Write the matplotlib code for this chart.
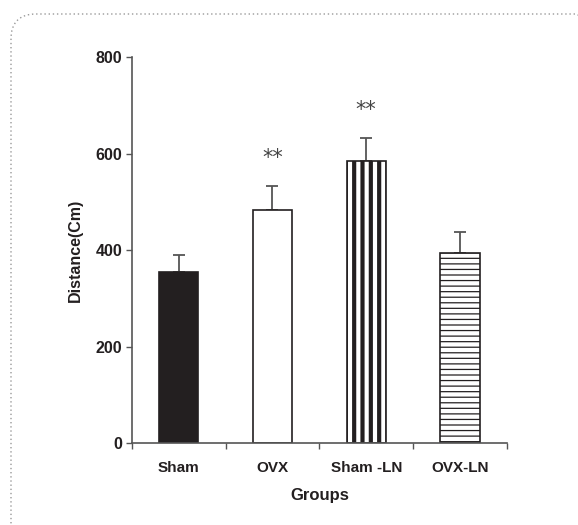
import numpy as np
import matplotlib
matplotlib.use("Agg")
import matplotlib.pyplot as plt
from matplotlib.patches import FancyBboxPatch

plt.rcParams['font.family'] = ['Liberation Sans', 'DejaVu Sans']

groups = ["Sham", "OVX", "Sham-LN", "OVX-LN"]
means = [354, 483, 584, 395]
errors = [36, 50, 48, 42]
stars = ["", "**", "**", ""]
tick_labels = ["Sham", "OVX", "Sham -LN", "OVX-LN"]

fig = plt.figure(figsize=(5.78, 5.25), dpi=100)
ax = fig.add_axes([0.228, 0.156, 0.649, 0.735])

x = np.arange(len(groups))
width = 0.42
colors = ["#231f20", "white", "white", "white"]
hatches = [None, None, "||", "---"]
hatch_lw = [1.0, 1.0, 3.0, 0.9]

for i in range(len(groups)):
    b = ax.bar(x[i], means[i], width, color=colors[i], edgecolor="#231f20",
               linewidth=1.2, hatch=hatches[i], zorder=2)
    if hatches[i]:
        try:
            b[0].set_hatch_linewidth(hatch_lw[i])
        except AttributeError:
            pass
    ax.errorbar(x[i], means[i], yerr=[[0], [errors[i]]], fmt="none",
                ecolor="#555555", elinewidth=1.3, capsize=4.5, capthick=1.3, zorder=1)
    if stars[i]:
        ax.text(x[i], means[i] + errors[i] + 58, stars[i], ha="center", va="center",
                fontsize=15, color="#444444", family="DejaVu Sans")

ax.set_xlim(-0.5, 3.5)
ax.set_ylim(0, 800)
ax.set_yticks([0, 200, 400, 600, 800])
ax.set_yticklabels(["0", "200", "400", "600", "800"], fontsize=11.5, fontweight="bold", color="#231f20")

# x ticks sit between the groups, labels are centred under bars
ax.set_xticks([-0.5, 0.5, 1.5, 2.5, 3.5])
ax.set_xticklabels([])
ax.set_xticks(x, minor=True)
ax.set_xticklabels(tick_labels, minor=True, fontsize=11, fontweight="bold", color="#231f20")
ax.tick_params(axis="x", which="minor", length=0, pad=13)
ax.tick_params(axis="x", which="major", length=4, width=1, color="#555555", direction="out")
ax.tick_params(axis="y", length=4, width=1, color="#555555", direction="out", pad=3)

for s in ["top", "right"]:
    ax.spines[s].set_visible(False)
for s in ["left", "bottom"]:
    ax.spines[s].set_color("#555555")
    ax.spines[s].set_linewidth(1.2)

ax.set_xlabel("Groups", fontsize=12, fontweight="bold", color="#231f20", labelpad=9)
ax.set_ylabel("Distance(Cm)", fontsize=11.5, fontweight="bold", color="#231f20", labelpad=9)

# dotted rounded frame around the figure
frame = FancyBboxPatch((0.11, -0.4), 5.9, 5.51, boxstyle="round,pad=0,rounding_size=0.25",
                       transform=fig.dpi_scale_trans, fill=False, edgecolor="#999999",
                       linestyle=(0, (1, 2)), linewidth=1.0)
fig.patches.append(frame)

fig.savefig("out.png", dpi=100)
